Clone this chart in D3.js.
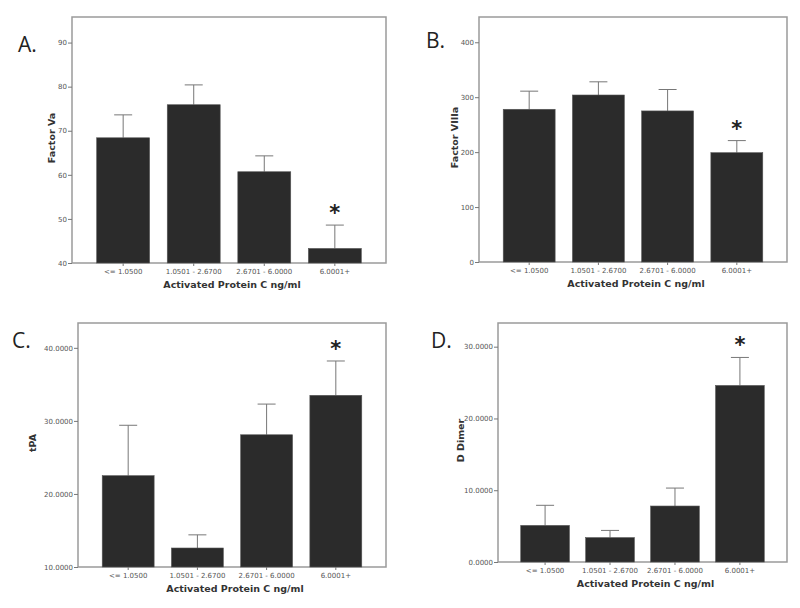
<!DOCTYPE html>
<html>
<head>
<meta charset="utf-8">
<script src="https://cdn.jsdelivr.net/npm/d3@7/dist/d3.min.js"></script>
<style>
  html, body { margin: 0; padding: 0; background: #fff; }
  svg { display: block; }
</style>
</head>
<body>
<svg id="chart" width="800" height="608"></svg>
<script>
// ---- Data ----
const categories = ["<= 1.0500", "1.0501 - 2.6700", "2.6701 - 6.0000", "6.0001+"];
const significant = [false, false, false, true];

const factorVa = [68.4, 75.9, 60.7, 43.3];
const factorVaUpper = [73.6, 80.4, 64.3, 48.6];
const factorVaTicks = [40, 50, 60, 70, 80, 90];

const factorVIIIa = [278, 304, 275, 199];
const factorVIIIaUpper = [311, 328, 314, 221];
const factorVIIIaTicks = [0, 100, 200, 300, 400];

const tPA = [22.5, 12.6, 28.1, 33.5];
const tPAUpper = [29.4, 14.4, 32.3, 38.2];
const tPATicks = [10, 20, 30, 40];

const dDimer = [5.1, 3.4, 7.8, 24.6];
const dDimerUpper = [7.9, 4.4, 10.3, 28.5];
const dDimerTicks = [0, 10, 20, 30];

const panelLetters = ["A.", "B.", "C.", "D."];
const yTitles = ["Factor Va", "Factor VIIIa", "tPA", "D Dimer"];
const xTitle = "Activated Protein C ng/ml";

// ---- Layout ----
const panels = [
  { letter: panelLetters[0], yTitle: yTitles[0], values: factorVa, upper: factorVaUpper, ticks: factorVaTicks,
    fmt: d3.format("d"), domain: [40, 95.8], x0: 72, x1: 386, y0: 17, y1: 263, lx: 18, ly: 52, ytx: 52 },
  { letter: panelLetters[1], yTitle: yTitles[1], values: factorVIIIa, upper: factorVIIIaUpper, ticks: factorVIIIaTicks,
    fmt: d3.format("d"), domain: [0, 446], x0: 479, x1: 787, y0: 17, y1: 262, lx: 426, ly: 48, ytx: 455 },
  { letter: panelLetters[2], yTitle: yTitles[2], values: tPA, upper: tPAUpper, ticks: tPATicks,
    fmt: d3.format(".4f"), domain: [10, 43.4], x0: 78, x1: 386, y0: 323, y1: 567, lx: 12, ly: 348, ytx: 33 },
  { letter: panelLetters[3], yTitle: yTitles[3], values: dDimer, upper: dDimerUpper, ticks: dDimerTicks,
    fmt: d3.format(".4f"), domain: [0, 33.3], x0: 498, x1: 787, y0: 323, y1: 562, lx: 431, ly: 348, ytx: 461 }
];

const svg = d3.select("#chart");
const frameColor = "#9a9a9a";
const barColor = "#2b2b2b";
const tickFont = "'DejaVu Sans', sans-serif";

panels.forEach(p => {
  const g = svg.append("g");
  const x = d3.scaleBand().domain(categories).range([p.x0, p.x1]).paddingInner(0.25).paddingOuter(0.35);
  const y = d3.scaleLinear().domain(p.domain).range([p.y1, p.y0]);

  // frame
  g.append("rect")
    .attr("x", p.x0).attr("y", p.y0)
    .attr("width", p.x1 - p.x0).attr("height", p.y1 - p.y0)
    .attr("fill", "none").attr("stroke", frameColor).attr("stroke-width", 1.5);

  // error bars (upper only)
  const eb = g.append("g");
  categories.forEach((c, i) => {
    const cx = x(c) + x.bandwidth() / 2;
    eb.append("line").attr("x1", cx).attr("x2", cx)
      .attr("y1", y(p.values[i])).attr("y2", y(p.upper[i]))
      .attr("stroke", "#777").attr("stroke-width", 1);
    eb.append("line").attr("x1", cx - 9).attr("x2", cx + 9)
      .attr("y1", y(p.upper[i])).attr("y2", y(p.upper[i]))
      .attr("stroke", "#777").attr("stroke-width", 1);
  });

  // bars
  g.append("g").selectAll("rect").data(categories).join("rect")
    .attr("x", d => x(d))
    .attr("y", (d, i) => y(p.values[i]))
    .attr("width", x.bandwidth())
    .attr("height", (d, i) => y(p.domain[0]) - y(p.values[i]))
    .attr("fill", barColor)
    .attr("stroke", "#555").attr("stroke-width", 0.6);

  // y axis
  const yAxis = d3.axisLeft(y).tickValues(p.ticks).tickFormat(p.fmt).tickSize(4).tickPadding(1);
  const ya = g.append("g").attr("transform", `translate(${p.x0},0)`).call(yAxis);
  ya.select(".domain").remove();
  ya.selectAll(".tick line").attr("stroke", "#777");
  ya.selectAll(".tick text").attr("fill", "#555").attr("font-size", 7).attr("font-family", tickFont);

  // x axis
  const xAxis = d3.axisBottom(x).tickSize(3).tickPadding(3);
  const xa = g.append("g").attr("transform", `translate(0,${p.y1})`).call(xAxis);
  xa.select(".domain").remove();
  xa.selectAll(".tick line").attr("stroke", "#777");
  xa.selectAll(".tick text").attr("fill", "#555").attr("font-size", 7).attr("font-family", tickFont);

  // x title
  g.append("text")
    .attr("x", (p.x0 + p.x1) / 2 + 3)
    .attr("y", p.y1 + 25)
    .attr("text-anchor", "middle")
    .attr("font-family", tickFont)
    .attr("font-weight", "bold")
    .attr("font-size", 9.5)
    .attr("fill", "#333")
    .text(xTitle);

  // y title
  g.append("text")
    .attr("transform", `translate(${p.ytx},${(p.y0 + p.y1) / 2 - 2}) rotate(-90)`)
    .attr("text-anchor", "middle")
    .attr("dy", "0.35em")
    .attr("font-family", tickFont)
    .attr("font-weight", "bold")
    .attr("font-size", 9.5)
    .attr("fill", "#333")
    .text(p.yTitle);

  // significance asterisk
  categories.forEach((c, i) => {
    if (!significant[i]) return;
    g.append("text")
      .attr("x", x(c) + x.bandwidth() / 2)
      .attr("y", y(p.upper[i]) - 17 + 12)
      .attr("text-anchor", "middle")
      .attr("font-family", tickFont)
      .attr("font-weight", "bold")
      .attr("font-size", 21)
      .attr("fill", "#222")
      .text("*");
  });

  // panel letter
  g.append("text")
    .attr("x", p.lx).attr("y", p.ly)
    .attr("font-family", "'Open Sans', sans-serif")
    .attr("font-size", 21)
    .attr("fill", "#222")
    .text(p.letter);
});
</script>
</body>
</html>
